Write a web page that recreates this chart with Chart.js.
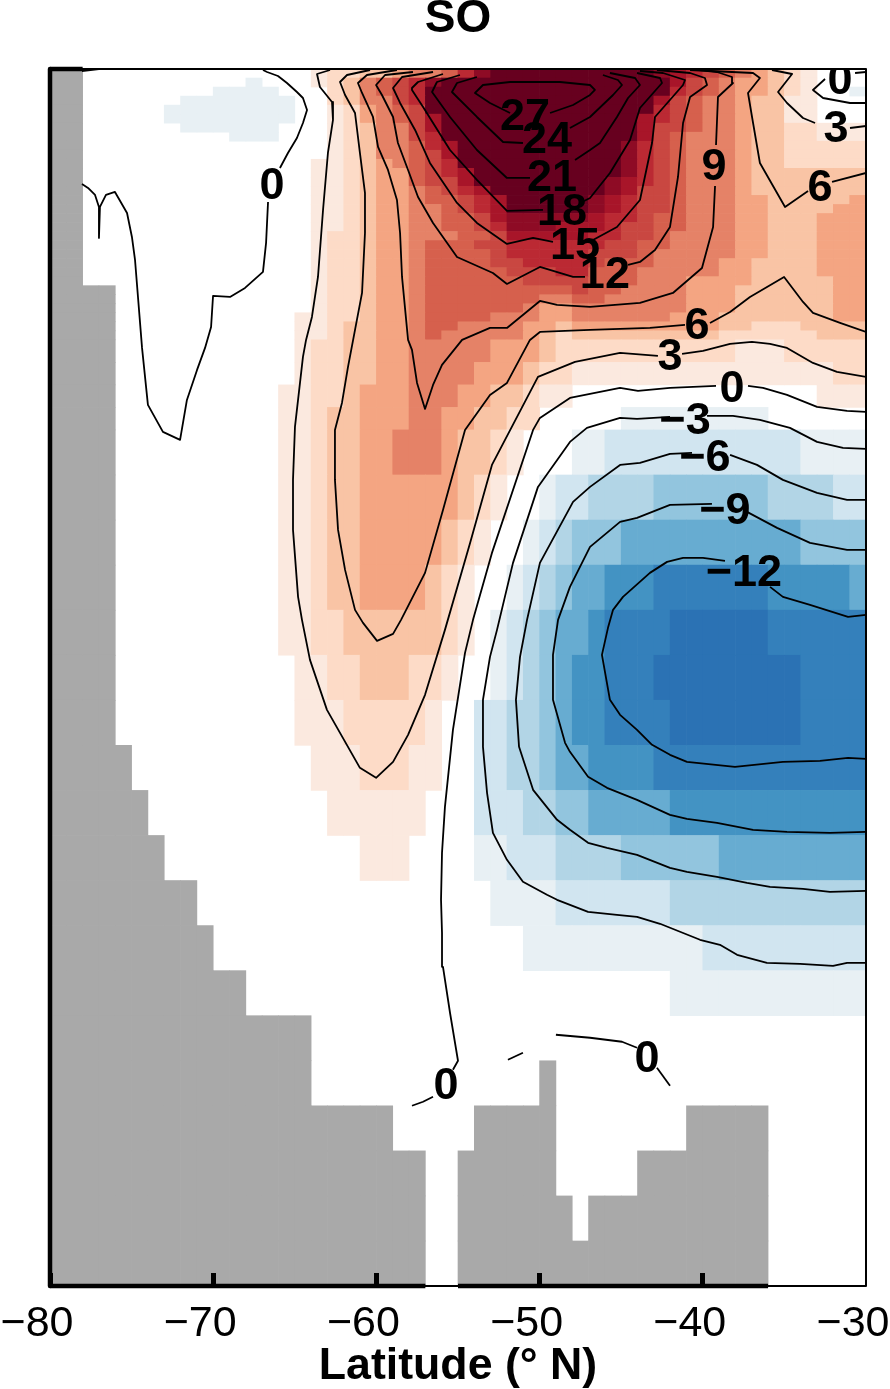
<!DOCTYPE html>
<html>
<head>
<meta charset="utf-8">
<title>SO</title>
<script src="https://cdn.jsdelivr.net/npm/chart.js@4"></script>
<style>
  html, body { margin: 0; padding: 0; background: #fff; overflow: hidden; }
  canvas { display: block; }
</style>
</head>
<body>
<canvas id="myChartSO" width="890" height="1389"></canvas>
<script>
// tick labels
const latTicks = [-80, -70, -60, -50, -40, -30];

// shading classes, one letter per class (land is #, no shading is .)
const shadeCodes = ["a","b","c","d","e","f","g","h","i","j","k","A","B","C","D","E","F","G","H","#"];
const shadeColors = ["#FBE9DF","#FDDBC7","#F9C4A5","#F4A582","#E58267","#D6604D","#C94741","#BB2933","#A81529","#8E0B25","#67001F",
                     "#E8F0F4","#D1E5F0","#B2D5E6","#92C5DE","#67ACD1","#4393C3","#3480BB","#2B72B4","#A9A9A9"];

// row thicknesses, top to bottom (depth axis units)
const rowSizes = [30, 4, 19];
const rowThick = [9.03, 22.53, 45.07];
const depthMax = 1217.3;

// one string per row: class letter + first 1 degree column (0 is 80S), runs to the next entry
const shadeRows = [
  "#0 .2 a16 b17 c19 d21 e22 f24 h25 j26 k27 j37 i38 h39 g40 f41 e42 d43 c44 b45 a46 .47",
  "#0 .2 A12 .13 a16 b17 c18 e19 f20 g21 h22 j23 k24 i38 g39 f40 e41 d42 c44 b45 a46 .47",
  "#0 .2 A10 .14 b17 c18 e19 f20 g21 h22 k23 h38 g39 f40 e41 d42 c44 b45 a46 .47 A49",
  "#0 .2 A8 .15 b17 c18 e19 g21 h22 k23 i37 g38 f39 e40 d42 c43 a45 .47",
  "#0 .2 A7 .15 a17 b18 d19 e20 f21 g22 k23 h37 g38 f39 e40 d42 c43 a45 .47",
  "#0 .2 A7 .15 a17 b18 d19 e20 f21 g22 i23 k24 i36 h37 g38 f39 e40 d42 c43 a45 .47",
  "#0 .2 A8 .14 a17 b18 c19 e20 g22 i23 k24 i36 g37 f39 e40 d42 c43 b45 a47",
  "#0 .2 A11 .14 a17 b18 c19 e20 g22 h23 k24 i36 g37 f38 e39 d42 c43 b45 a47",
  "#0 .2 a17 b18 c19 e20 f22 h23 i24 k25 j35 h36 g37 f38 e39 d42 c43 b45",
  "#0 .2 a17 b18 c19 e20 f22 g23 i24 k25 j35 h36 g37 f38 e39 d42 c43 b45",
  "#0 .2 a16 b18 c19 d20 e21 f22 g23 h24 k25 j35 h36 g37 f38 e39 d42 c43 b45",
  "#0 .2 a16 b18 c19 d20 f22 g23 h24 i25 k26 j35 h36 g37 f38 e39 d42 c43",
  "#0 .2 a16 b18 c19 d20 f22 g23 i25 k26 j34 i35 h36 g37 f38 e39 d42 c43",
  "#0 .2 a16 b18 c19 d20 e22 f23 g24 h25 i26 k27 j34 i35 g36 f38 e39 d42 c43",
  "#0 .2 a16 b18 c19 d20 e22 f23 g25 h26 i27 k28 j33 i34 h35 g36 f38 e39 d42 c44 d49",
  "#0 .2 a16 b18 c19 d20 e22 f24 g25 h26 i27 k28 j33 i34 h35 g36 f38 e39 d42 c44 d48",
  "#0 .2 a16 b18 c19 d20 e22 f24 g26 i27 j28 i33 h34 g36 f37 e39 d42 c44 d47",
  "#0 .2 a16 b18 c19 d20 e22 f24 g26 h27 j28 i31 h34 g35 f37 e39 d42 c44 d47",
  "#0 .2 a16 b17 c19 d20 e22 f25 g27 i28 h33 g35 f37 e38 d42 c44 d47",
  "#0 .2 a16 b17 c19 d20 e22 f23 g26 h28 g34 f36 e38 d42 c44 d47",
  "#0 .2 a16 b17 c19 d20 e22 f23 g27 h28 g33 f36 e37 d42 c44 d47",
  "#0 .2 a16 b17 c19 d20 e22 f23 g27 h29 g33 f34 e37 d41 c43 d47",
  "#0 .2 a16 b17 c19 d20 e22 f23 g28 h31 f33 e36 d41 c43 d47",
  "#0 .2 a16 b17 c19 d20 e22 f23 g29 f33 e36 d39 c43 d48",
  "#0 .4 a16 b17 c19 d20 e22 f23 g32 f33 e35 d39 c42 d48",
  "#0 .4 a16 b17 c19 d20 e22 f23 e30 f32 e34 d39 c42 d48",
  "#0 .4 a16 b17 c19 d20 e22 f23 e29 d30 e32 d39 c42 d48",
  "#0 .4 a15 b17 c19 d20 e22 f23 e27 d30 e32 d38 c41 d48",
  "#0 .4 a15 b17 c18 d20 e22 f23 e25 d29 c31 d32 c41 b43 c46",
  "#0 .4 a15 b17 c18 d20 e22 f23 e24 d29 c30 b31 c32 b41 c47",
  "#0 .4 a15 b16 c18 d20 e22 d27 c30 b31 a42 b45",
  "#0 .4 a15 b16 c18 d20 e22 d26 c29 b30 a32 b48",
  "#0 .4 a14 b16 c18 d19 e22 d25 c27 b29 a30 .32 a47",
  "#0 .4 a14 b16 c17 d19 e22 d24 c26 b28 .30 A35 .44",
  "#0 .4 a14 b16 c17 d19 e21 d24 c25 b27 a28 .29 A32 B34 A46",
  "#0 .4 a14 b16 c17 d19 c25 b26 a27 .28 A30 B31 C33 D37 C44 B48",
  "#0 .4 a14 b16 c17 d19 c24 b25 a26 .27 A29 B30 C31 D32 E35 D46",
  "#0 .4 a14 b16 c17 d19 c23 b24 a25 .26 A28 B29 C30 D31 E32 F34 G37 F44 E49",
  "#0 .4 a14 b16 c18 b24 a25 .26 A27 B28 C29 D30 E31 F33 G34 H38 G44",
  "#0 .4 a15 b17 c19 b22 a24 .25 A27 B28 C29 D30 E31 F32 G34 H37 G46",
  "#0 .4 a15 b18 a23 .24 B26 C28 D30 E31 F32 G34 H38 G46",
  "#0 .5 a16 b19 a22 .24 B26 C28 D30 E31 F33 G37",
  "#0 .6 a17 .23 B26 C29 D31 E33 F38",
  "#0 .7 a19 .22 A26 B28 C31 D35 E41",
  "#0 .9 A27 B31 C38",
  "#0 .10 A29 B40",
  "#0 .12 A38",
  "#0 .16",
  "#0 .16 #30 .31",
  "#0 .21 #26 .31 #39 .44",
  "#0 .23 #25 .31 #36 .44",
  "#0 .23 #25 .32 #33 .44",
  "#0 .23 #25 .44"
];

// contour lines as [latitude, depth], broken where a label sits
const contour0 = [
  [[-78.04,2],[-77,0]],
  [[-66.95,1],[-66.7,3],[-66.03,7],[-65.48,14],[-64.87,23],[-64.5,29],[-64.25,41],[-64.5,54],[-64.87,69],[-65.42,84],[-65.91,99]],
  [[-66.64,133],[-66.76,174],[-66.95,203],[-68.05,219],[-68.97,228],[-70.01,227],[-70.13,258],[-70.5,279],[-70.99,301],[-71.61,331],[-72.03,371],[-73.08,363],[-74,336],[-74.36,279],[-74.79,191],[-74.98,168],[-75.28,144],[-76.02,123],[-76.57,126],[-76.94,138],[-77,169],[-77,138],[-77.24,126],[-77.67,119],[-78.04,115]],
  [[-30,3],[-30.67,4]],
  [[-32.51,10],[-33.25,21],[-32.63,29],[-30.98,34],[-30,34]],
  [[-57.82,1037],[-57.14,1033],[-56.53,1028]],
  [[-55.31,1001],[-55,992],[-55.49,944],[-55.92,898],[-55.98,864],[-56.04,831],[-55.98,784],[-55.8,738],[-55.31,661],[-54.57,584],[-54.08,551],[-52.92,484],[-50.4,361],[-49.98,349],[-48.14,329],[-45.07,319],[-43.97,322],[-42.01,319],[-39.19,317]],
  [[-37.23,317],[-36.31,319],[-34.84,326],[-33,338],[-31.16,342],[-30,343]],
  [[-51.94,991],[-51.02,984]],
  [[-49,966],[-46.91,969],[-44.95,973],[-44.03,979]],
  [[-42.81,999],[-42.01,1017]]
];
const contour3 = [
  [[-62.84,1],[-63.64,5],[-63.46,18],[-62.72,33],[-62.66,51],[-62.97,84],[-63.27,141],[-63.58,208],[-63.95,248],[-64.31,271],[-64.5,288],[-64.99,358],[-65.11,411],[-65.11,461],[-64.8,528],[-64.56,551],[-64.07,591],[-63.03,641],[-61.01,699],[-60.02,709],[-58.98,693],[-58.06,666],[-57.02,626],[-55.8,561],[-54.26,474],[-52.92,396],[-50.1,308],[-47.83,293],[-45.07,284],[-42.75,287]],
  [[-41.27,285],[-39.99,282],[-38.33,275],[-36.99,273],[-35.88,275],[-34.84,279],[-33.25,294],[-31.78,303],[-30,308]],
  [[-35.76,1],[-34.53,5],[-35.39,23],[-34.84,34],[-33.86,49],[-33.12,54]],
  [[-30.98,59],[-30,57]]
];
const contour6 = [
  [[-60.39,1],[-61.8,6],[-62.23,13],[-61.92,26],[-61.31,44],[-61.01,84],[-60.7,124],[-60.7,164],[-60.88,224],[-61.31,261],[-61.74,298],[-62.11,334],[-62.54,361],[-62.54,411],[-62.35,461],[-61.92,501],[-61.31,541],[-60.82,554],[-59.96,572],[-58.98,565],[-58.49,551],[-57.02,504],[-55.92,441],[-54.57,361],[-53.04,326],[-52,314],[-50.59,271],[-49.98,263],[-46.91,261],[-43.24,259],[-41.09,256]],
  [[-39.56,254],[-38.33,243],[-37.11,228],[-35.02,208],[-33.86,233],[-33.25,244],[-31.59,254],[-30,263]],
  [[-40.78,1],[-36.92,4],[-36.5,9],[-37.23,24],[-36.92,54],[-36.5,94],[-34.96,138],[-33.55,122]],
  [[-32.08,113],[-30,104]]
];
const contour9 = [
  [[-58.74,1],[-60.58,6],[-61.13,14],[-60.88,24],[-60.21,48],[-59.9,78],[-59.29,101],[-58.74,131],[-58.55,164],[-58.43,208],[-58.06,271],[-57.82,281],[-57.51,314],[-57.02,340],[-56.53,316],[-55.98,296],[-54.75,271],[-53.04,259],[-52,259],[-49.98,232],[-48.93,236],[-46.91,238],[-43.85,234],[-41.83,224],[-40.05,199],[-39.37,158],[-39.25,117]],
  [[-39.19,76],[-39.07,28],[-38.15,14],[-38.21,8],[-39.13,3],[-40.78,0]]
];
const contour12 = [
  [[-57.76,3],[-59.47,6],[-60.02,16],[-59.66,26],[-58.98,48],[-58.68,74],[-58.06,101],[-57.45,128],[-56.53,154],[-55.06,188],[-52.86,204],[-52,215],[-49.98,198],[-47.95,208],[-47.22,208]],
  [[-44.58,196],[-43.85,193],[-42.93,181],[-42.01,158],[-41.52,108],[-41.21,54],[-40.78,28],[-39.74,16],[-39.87,9],[-40.78,4],[-42.81,1]]
];
const contour15 = [
  [[-56.53,3],[-58.43,8],[-58.98,19],[-58.55,34],[-57.63,61],[-56.72,94],[-55.06,134],[-53.84,154],[-52,175],[-50.4,169],[-49.18,173]],
  [[-46.73,171],[-45.26,158],[-43.85,131],[-43.11,74],[-42.93,48],[-41.21,16],[-41.09,11],[-42.44,4],[-43.85,2]]
];
const contour18 = [
  [[-55.92,5],[-57.45,13],[-57.82,19],[-57.82,21],[-57.14,38],[-55.49,81],[-53.84,111],[-52,142],[-49.79,141]],
  [[-47.4,133],[-46.91,129],[-45.69,104],[-44.46,71],[-43.85,39],[-42.5,14],[-42.62,9],[-44.03,4]]
];
const contour21 = [
  [[-54.88,6],[-56.29,13],[-56.59,23],[-55.49,48],[-53.84,81],[-52,109],[-50.59,109]],
  [[-47.83,91],[-46.91,81],[-46.3,74],[-45.26,48],[-44.58,29],[-43.85,16],[-44.15,9],[-45.69,4]]
];
const contour24 = [
  [[-53.84,8],[-55.06,14],[-55.37,23],[-53.84,48],[-52.24,73],[-51.02,74]],
  [[-48.14,59],[-46.91,48],[-45.5,26],[-44.95,16],[-45.2,11],[-46.12,6]]
];
const contour27 = [
  [[-51.81,44],[-53.04,34],[-53.96,24],[-53.47,16],[-51.81,13],[-48.75,13],[-46.91,16],[-46.61,21],[-46.91,26],[-47.95,36],[-49.36,44]]
];
const contourNeg3 = [
  [[-42.01,348],[-44.03,350],[-45.07,349],[-47.1,359],[-48.14,373],[-50.1,418],[-51.63,494],[-52.61,561],[-53.04,588],[-53.47,631],[-53.47,678],[-53.22,724],[-52.86,764],[-52,791],[-51.02,813],[-49.55,826],[-48.93,831],[-47.03,843],[-45.26,846],[-44.03,848],[-42.62,855],[-40.17,871],[-38.95,876],[-37.9,886],[-36.07,894],[-34.04,895],[-32.02,897],[-31.16,894],[-30,894]],
  [[-39.74,347],[-38.15,347],[-36.5,351],[-34.66,359],[-33,373],[-31.41,379],[-30,380]]
];
const contourNeg6 = [
  [[-40.66,384],[-42.01,385],[-43.85,394],[-45.07,396],[-46.91,418],[-47.95,433],[-49.98,494],[-50.77,551],[-51.2,588],[-51.45,631],[-51.26,678],[-50.4,721],[-48.93,751],[-48.14,761],[-47.03,774],[-45.87,779],[-44.03,786],[-42.01,799],[-40.97,803],[-39.13,808],[-37.29,814],[-35.88,818],[-33.86,820],[-32.21,823],[-30,822]],
  [[-38.33,386],[-36.68,396],[-35.09,411],[-33,424],[-31.16,431],[-30,431]]
];
const contourNeg9 = [
  [[-39.44,435],[-42.01,436],[-44.03,449],[-45.07,453],[-46.91,478],[-48.14,518],[-48.87,551],[-49.18,586],[-49.18,631],[-48.44,674],[-48.14,683],[-47.03,708],[-45.87,719],[-44.03,731],[-42.01,746],[-40.97,750],[-39.13,754],[-36.92,761],[-34.84,763],[-32.21,764],[-30,763]],
  [[-37.29,443],[-35.45,459],[-33.43,474],[-31.16,481],[-30,481]]
];
const contourNeg12 = [
  [[-38.64,492],[-39.99,489],[-41.21,489],[-42.19,493],[-43.24,504],[-44.89,528],[-45.5,541],[-45.81,559],[-46.18,586],[-45.69,631],[-45.07,646],[-44.03,661],[-43.11,676],[-42.01,686],[-40.97,693],[-38.03,698],[-35.09,693],[-32.82,692],[-31.1,689],[-30,690]],
  [[-35.88,518],[-35.09,528],[-33.43,536],[-31.1,548],[-30,546]]
];
const allContours = [contour0, contour3, contour6, contour9, contour12, contour15, contour18, contour21, contour24, contour27,
                     contourNeg3, contourNeg6, contourNeg9, contourNeg12];

// contour labels
const labelTexts = ["0","27","24","21","18","15","12","9","6","3","0","\u22123","\u22126","\u22129","\u221212","0","3","6","0","0"];
const labelLats = [-66.4,-50.9,-49.55,-49.24,-48.63,-47.83,-46,-39.31,-40.36,-42.01,-38.21,-41.09,-39.87,-38.64,-37.48,-31.59,-31.84,-32.82,-55.74,-43.42];
const labelDepths = [118,49,72,110,144,178,207,99,258,289,321,353,390,443,505,13,61,120,1018,991];

// plot frame, and the heavier edge along the land
const frameLine = [[-80,0],[-30,0],[-30,depthMax],[-80,depthMax],[-80,0]];
const landEdges = [
  [[-80,0],[-80,depthMax]],
  [[-80,0],[-78,0]],
  [[-80,depthMax],[-57,depthMax]],
  [[-55,depthMax],[-36,depthMax]]
];

const fontName = '"Liberation Sans", Arial, sans-serif';

function rowEdges() {
  const edges = [0];
  rowSizes.forEach(function (n, k) {
    for (let i = 0; i < n; i++) edges.push(edges[edges.length - 1] + rowThick[k]);
  });
  return edges;
}

// expand the rows to one floating bar per cell
const cells = [];
const cellColors = [];
const edges = rowEdges();
shadeRows.forEach(function (row, r) {
  const runs = row.split(" ");
  runs.forEach(function (run, j) {
    const code = run[0];
    const from = Number(run.slice(1));
    const to = j + 1 < runs.length ? Number(runs[j + 1].slice(1)) : 50;
    if (code === ".") return;
    for (let c = from; c < to; c++) {
      cells.push({ x: -80 + c + 0.5, y: [edges[r], edges[r + 1]] });
      cellColors.push(shadeColors[shadeCodes.indexOf(code)]);
    }
  });
});

function lineSet(points, width, order) {
  return {
    type: "line",
    data: points.map(function (p) { return { x: p[0], y: p[1] }; }),
    borderColor: "#000",
    borderWidth: width,
    borderJoinStyle: "round",
    pointRadius: 0,
    tension: 0,
    fill: false,
    order: order
  };
}

const datasets = [{
  type: "bar",
  data: cells,
  backgroundColor: cellColors,
  borderWidth: 0,
  barPercentage: 1,
  categoryPercentage: 1,
  order: 5
}];
allContours.forEach(function (level) {
  level.forEach(function (seg) { datasets.push(lineSet(seg, 1.8, 2)); });
});
datasets.push(Object.assign(lineSet(frameLine, 2, 1), { clip: false }));
landEdges.forEach(function (seg) {
  datasets.push(Object.assign(lineSet(seg, 4.5, 0), { clip: false }));
});

const contourLabels = {
  id: "contourLabels",
  afterDatasetsDraw(chart) {
    const { ctx, chartArea, scales } = chart;
    ctx.save();
    ctx.beginPath();
    ctx.rect(chartArea.left, chartArea.top, chartArea.width, chartArea.height);
    ctx.clip();
    ctx.fillStyle = "#000";
    ctx.font = "bold 45px " + fontName;
    ctx.textAlign = "center";
    ctx.textBaseline = "middle";
    labelTexts.forEach(function (t, i) {
      ctx.fillText(t, scales.x.getPixelForValue(labelLats[i]), scales.y.getPixelForValue(labelDepths[i]));
    });
    ctx.restore();
  }
};

new Chart(document.getElementById("myChartSO"), {
  type: "bar",
  data: { datasets: datasets },
  plugins: [contourLabels],
  options: {
    responsive: false,
    animation: false,
    events: [],
    layout: { padding: { left: 50, right: 24, top: 0, bottom: 0 } },
    scales: {
      x: {
        type: "linear",
        position: "bottom",
        offset: false,
        min: -80,
        max: -30,
        afterBuildTicks(scale) {
          scale.ticks = latTicks.map(function (v) { return { value: v }; });
        },
        afterFit(scale) {
          scale.height = 103;
          scale.paddingLeft = 0;
          scale.paddingRight = 0;
        },
        border: { display: false },
        grid: {
          z: 1,
          offset: false,
          drawOnChartArea: false,
          tickLength: -13,
          tickWidth: 5,
          tickColor: function (c) { return c.tick && c.tick.value === -30 ? "rgba(0,0,0,0)" : "#000"; }
        },
        ticks: {
          color: "#000",
          autoSkip: false,
          maxRotation: 0,
          minRotation: 0,
          padding: 25,
          labelOffset: -13,
          font: { family: fontName, size: 43 },
          callback: function (v) { return "\u2212" + Math.abs(v); }
        },
        title: {
          display: true,
          text: "Latitude (\u00B0 N)",
          color: "#000",
          padding: { top: 0, bottom: 0 },
          font: { family: fontName, size: 44.7, weight: "bold", lineHeight: 1 }
        }
      },
      y: {
        type: "linear",
        display: false,
        reverse: true,
        min: 0,
        max: depthMax
      }
    },
    plugins: {
      legend: { display: false },
      tooltip: { enabled: false },
      title: {
        display: true,
        text: "SO",
        color: "#000",
        fullSize: false,
        padding: { top: -4, bottom: 27 },
        font: { family: fontName, size: 46, weight: "bold", lineHeight: 1 }
      }
    }
  }
});
</script>
</body>
</html>
